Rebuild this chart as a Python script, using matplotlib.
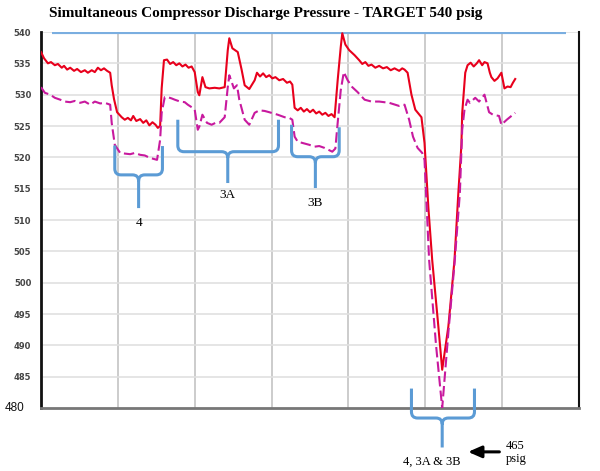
import matplotlib
matplotlib.use('Agg')
import numpy as np
import matplotlib.pyplot as plt
from matplotlib.path import Path
from matplotlib.patches import PathPatch

# time axis in minutes (no labels on the original), pressure in psig
red_t = [0, 0.4, 0.9, 1.3, 1.8, 2.2, 2.7, 3.0, 3.4, 3.8, 4.3, 4.7, 5.2, 5.7, 6.1, 6.6, 7.0, 7.4,
         7.8, 8.2, 8.6, 9.0, 9.2, 9.5, 9.9, 10.5, 10.9, 11.3, 11.7, 12.0, 12.4, 12.9, 13.3, 13.7,
         14.1, 14.5, 14.9, 15.2, 15.5, 15.7, 16.0, 16.4, 16.8, 17.2, 17.6, 18.0, 18.4, 18.8, 19.2,
         19.6, 20.0, 20.4, 20.6, 21.0, 21.4, 21.9, 22.6, 23.2, 23.9, 24.3, 24.5, 24.9, 25.6, 26.1,
         26.5, 27.1, 27.8, 28.1, 28.5, 28.9, 29.3, 29.7, 30.1, 30.5, 31.0, 31.5, 32.0, 32.4, 32.7,
         33.0, 33.4, 33.8, 34.2, 34.6, 35.0, 35.4, 35.8, 36.2, 36.6, 37.0, 37.4, 37.8, 38.2, 38.6,
         39.0, 39.2, 39.6, 40.1, 40.8, 41.4, 41.8, 42.2, 42.6, 43.0, 43.5, 44.0, 44.5, 45.0, 45.5,
         46.0, 46.6, 47.0, 47.3, 47.7, 48.2, 48.7, 49.5, 49.9, 50.4, 50.9, 51.7, 52.2, 52.6, 53.0,
         53.8, 54.3, 54.7, 54.8, 55.2, 55.5, 55.9, 56.3, 56.7, 57.0, 57.4, 57.7, 58.1, 58.4, 58.6,
         59.0, 59.4, 59.9, 60.3, 60.7, 61.1, 61.4, 61.7]
red_p = [536.8, 535.8, 535.0, 535.2, 534.7, 534.9, 534.3, 534.6, 534.0, 534.3, 533.8, 534.1, 533.6,
         533.9, 533.5, 533.9, 533.6, 534.3, 533.9, 534.2, 533.8, 533.5, 531.5, 529.3, 527.2, 526.4,
         526.0, 526.3, 525.9, 526.6, 525.8, 526.1, 525.5, 525.9, 525.1, 525.6, 525.2, 524.7, 525.0,
         531.0, 535.5, 535.6, 534.9, 535.2, 534.7, 535.0, 534.5, 534.8, 534.3, 534.5, 533.6, 530.4,
         529.9, 532.8, 531.2, 531.0, 531.1, 531.0, 531.2, 537.1, 539.0, 537.4, 536.8, 534.0, 531.5,
         530.9, 532.3, 533.5, 532.9, 533.4, 532.8, 533.1, 532.6, 532.8, 532.3, 532.5, 531.9, 532.1,
         531.6, 527.9, 527.5, 527.9, 527.3, 527.7, 527.2, 527.6, 527.0, 527.3, 526.8, 527.1, 526.6,
         526.9, 526.4, 532.3, 537.6, 539.8, 538.0, 537.1, 536.3, 535.5, 534.9, 535.2, 534.6, 534.8,
         534.3, 534.6, 534.2, 534.4, 533.9, 534.2, 533.8, 534.2, 534.0, 533.5, 530.0, 527.6, 526.4,
         522.3, 512.0, 503.6, 493.0, 486.1, 489.5, 493.0, 503.6, 514.3, 522.0, 527.0, 533.5, 534.7,
         535.1, 534.5, 535.0, 535.5, 534.7, 535.2, 535.0, 533.5, 532.8, 532.2, 532.6, 533.5, 531.0,
         531.3, 531.2, 531.9, 532.5]

mag_t = [0, 0.5, 1.2, 1.8, 2.5, 3.1, 3.8, 4.4, 5.1, 5.7, 6.4, 7.0, 7.7, 8.3, 9.0, 9.2, 9.6, 10.3,
         10.9, 11.6, 12.2, 12.9, 13.5, 14.2, 15.1, 15.5, 15.7, 16.1, 16.5, 17.0, 17.4, 18.1, 18.7,
         19.1, 19.6, 20.0, 20.4, 20.6, 21.0, 21.6, 22.2, 22.7, 23.2, 23.9, 24.3, 24.5, 25.1, 25.5,
         25.8, 26.5, 27.1, 27.8, 28.4, 29.1, 29.7, 30.8, 31.7, 32.3, 32.7, 33.0, 33.4, 34.3, 34.9,
         35.6, 36.2, 36.9, 37.9, 38.3, 38.6, 39.0, 39.4, 39.9, 40.5, 41.2, 42.1, 43.0, 44.0, 45.3,
         46.6, 47.3, 47.9, 48.4, 49.0, 49.6, 49.9, 50.5, 51.4, 52.2, 53.0, 53.8, 54.5, 54.8, 55.1,
         55.5, 55.8, 56.5, 57.0, 57.7, 58.3, 58.8, 59.6, 59.9, 60.6, 61.7]
mag_p = [531.2, 530.3, 530.0, 529.5, 529.2, 528.9, 528.8, 529.0, 528.7, 528.9, 528.4, 528.9, 528.6,
         528.7, 528.4, 525.5, 522.0, 520.7, 520.6, 520.5, 520.7, 520.4, 520.3, 519.9, 519.6, 522.8,
         527.1, 529.6, 529.6, 529.4, 529.2, 528.9, 528.8, 528.4, 528.0, 527.6, 524.4, 524.9, 526.8,
         525.5, 525.2, 525.5, 525.5, 526.4, 531.2, 533.1, 531.0, 531.5, 529.2, 526.0, 525.2, 527.1,
         527.5, 527.4, 527.2, 526.8, 526.4, 526.3, 526.0, 523.3, 522.5, 522.2, 522.0, 521.7, 521.8,
         521.5, 520.9, 521.4, 525.5, 530.7, 533.6, 532.3, 531.2, 530.4, 529.2, 528.9, 528.9, 528.7,
         528.2, 528.4, 526.0, 523.3, 521.5, 520.7, 519.6, 503.6, 490.0, 480.0, 492.0, 503.0, 514.3,
         524.4, 527.6, 529.2, 528.7, 529.5, 528.9, 530.0, 527.2, 526.8, 526.6, 525.2, 526.0, 527.1]

target = 540
yticks = [485, 490, 495, 500, 505, 510, 515, 520, 525, 530, 535, 540]

BLUE = '#5b9bd5'


def brace(ax, xl, xr, xc, ytop_l, ytop_r, ybar, ytip, rx=0.8, ry=1.0):
    verts = [(xl, ytop_l), (xl, ybar + ry), (xl, ybar), (xl + rx, ybar),
             (xc - rx, ybar), (xc, ybar), (xc, ybar - ry), (xc, ytip),
             (xc, ybar - ry), (xc, ybar), (xc + rx, ybar),
             (xr - rx, ybar), (xr, ybar), (xr, ybar + ry), (xr, ytop_r)]
    codes = [Path.MOVETO, Path.LINETO, Path.CURVE3, Path.CURVE3,
             Path.LINETO, Path.CURVE3, Path.CURVE3, Path.LINETO,
             Path.MOVETO, Path.CURVE3, Path.CURVE3,
             Path.LINETO, Path.CURVE3, Path.CURVE3, Path.LINETO]
    ax.add_patch(PathPatch(Path(verts, codes), fill=False, edgecolor=BLUE,
                           lw=2.2, clip_on=False, zorder=5))


fig = plt.figure(figsize=(6, 4.71), dpi=100)
ax = fig.add_axes([41 / 600, 1 - 408 / 471, 538 / 600, 376 / 471])

ax.set_xlim(0, 70)
ax.set_ylim(480, 540)
ax.set_xticks(np.arange(0, 71, 10))
ax.set_yticks(yticks)
ax.xaxis.grid(True, color='#c8c8c8', lw=1.3)
ax.yaxis.grid(True, color='#e0e0e0', lw=1.2)
ax.set_axisbelow(True)
ax.tick_params(length=0, labelbottom=False)
ax.set_yticklabels([str(v) for v in yticks], fontsize=6, fontweight='bold',
                   color='#444444', family='DejaVu Sans')
ax.tick_params(axis='y', pad=7)
ax.text(-2.1, 480, '480', fontsize=8.5, family='Liberation Sans', ha='right',
        va='center', color='#111111', clip_on=False)

ax.spines['top'].set_visible(False)
ax.spines['left'].set_linewidth(2)
ax.spines['left'].set_color('#111111')
ax.spines['right'].set_linewidth(1.5)
ax.spines['right'].set_color('#111111')
ax.spines['bottom'].set_linewidth(2)
ax.spines['bottom'].set_color('#777777')

ax.plot([1.43, 68.3], [target, target], color='#7aaee0', lw=3, solid_capstyle='butt', zorder=3)
ax.plot(red_t, red_p, color='#e8001c', lw=1.5, zorder=4)
ax.plot(mag_t, mag_p, color='#c8199e', lw=1.5, linestyle=(0, (5, 2)), zorder=4)

# brackets and labels
serif = 'Liberation Serif'
brace(ax, 9.6, 15.8, 12.7, 521.9, 521.8, 517.2, 511.9)
ax.text(12.7, 509.5, '4', fontsize=9.5, family=serif, ha='center', va='center')
brace(ax, 17.8, 30.9, 24.3, 526.0, 526.0, 520.9, 515.9)
ax.text(24.3, 514.0, '3A', fontsize=9.5, family=serif, ha='center', va='center')
brace(ax, 32.6, 38.8, 35.7, 525.2, 524.8, 520.1, 515.1)
ax.text(35.7, 512.7, '3B', fontsize=9.5, family=serif, ha='center', va='center')
brace(ax, 48.2, 56.4, 52.2, 483.1, 483.1, 478.4, 473.7)
ax.text(50.8, 471.4, '4, 3A & 3B', fontsize=9, family=serif, ha='center', va='center')
ax.annotate('', xy=(55.2, 473.0), xytext=(60.0, 473.0),
            arrowprops=dict(arrowstyle='-|>,head_length=0.8,head_width=0.35',
                            color='black', lw=2.2), annotation_clip=False)
ax.text(60.5, 472.9, '465\npsig', fontsize=9, family=serif, ha='left', va='center',
        linespacing=1.2)

fig.text(266 / 600, 1 - 14 / 471, 'Simultaneous Compressor Discharge Pressure - TARGET 540 psig',
         fontsize=11, fontweight='bold', family='Liberation Serif', ha='center', va='center')

fig.savefig('out.png', dpi=100)
